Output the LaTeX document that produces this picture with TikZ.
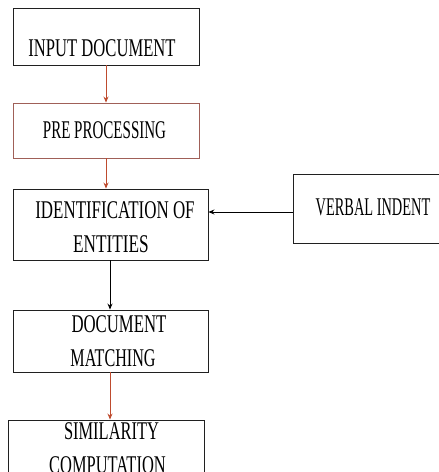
\documentclass[tikz,border=0pt]{standalone}
\usepackage{fontspec}
\usepackage{graphicx}
\newfontfamily\cond[FakeStretch=0.62]{Liberation Serif}
\newcommand\hsq[2]{\scalebox{#1}[1]{#2}}
\usetikzlibrary{arrows.meta}
\definecolor{arrred}{HTML}{BE4B2E}
\definecolor{boxbrown}{HTML}{A06058}
\definecolor{boxgray}{HTML}{202020}
\tikzset{
  box/.style={draw=boxgray, line width=0.9pt, inner sep=0pt},
  lbl/.style={font=\cond\fontsize{25.5}{34}\selectfont, align=center, inner sep=0pt, text=black},
  redarr/.style={draw=arrred, line width=0.8pt, -{Stealth[length=6pt,width=5pt]}},
  blkarr/.style={draw=black, line width=0.8pt, -{Stealth[length=6pt,width=5pt]}}
}
\begin{document}
\begin{tikzpicture}[x=1pt,y=1pt]
\useasboundingbox (0,0) rectangle (439,-472);
\clip (0,0) rectangle (439,-472);
% boxes
\node[box, minimum width=186pt, minimum height=57pt] (b1) at (106,-36.5) {};
\node[box, draw=boxbrown, minimum width=186pt, minimum height=55pt] (b2) at (106,-130.5) {};
\node[box, minimum width=195pt, minimum height=71pt] (b3) at (110.5,-224.5) {};
\node[box, minimum width=160pt, minimum height=69pt] (b4) at (373,-208.5) {};
\node[box, minimum width=195pt, minimum height=62pt] (b5) at (110.5,-341) {};
\node[box, minimum width=196pt, minimum height=70pt] (b6) at (106,-455) {};
% labels
\node[lbl] (t1) at (102,-48) {\hsq{1.05}{INPUT DOCUMENT}};
\node[lbl] (t2) at (104.5,-130) {\hsq{0.95}{PRE PROCESSING}};
\node[lbl] (t3) at (111,-227) {\hspace*{8pt}\hsq{1.07}{IDENTIFICATION OF}\\\hsq{1.09}{ENTITIES}};
\node[lbl] (t4) at (373,-207) {\hsq{0.91}{VERBAL INDENT}};
\node[lbl] (t5) at (113,-341.5) {\hspace*{12pt}\hsq{1.06}{DOCUMENT}\\\hsq{1.02}{MATCHING}};
\node[lbl] (t6) at (107.5,-448.5) {\hspace*{8pt}\hsq{1.04}{SIMILARITY}\\\hsq{1.04}{COMPUTATION}};
% connectors
\draw[redarr] (b1.south -| b2.north) -- (b2.north);
\draw[redarr] (b2.south) -- (b2.south |- b3.north);
\draw[blkarr] (b4.west |- 0,-212) -- (b3.east |- 0,-212);
\draw[blkarr] (b3.south -| 110,0) -- (b5.north -| 110,0);
\draw[redarr] (b5.south -| 110,0) -- (b6.north -| 110,0);
\end{tikzpicture}
\end{document}
